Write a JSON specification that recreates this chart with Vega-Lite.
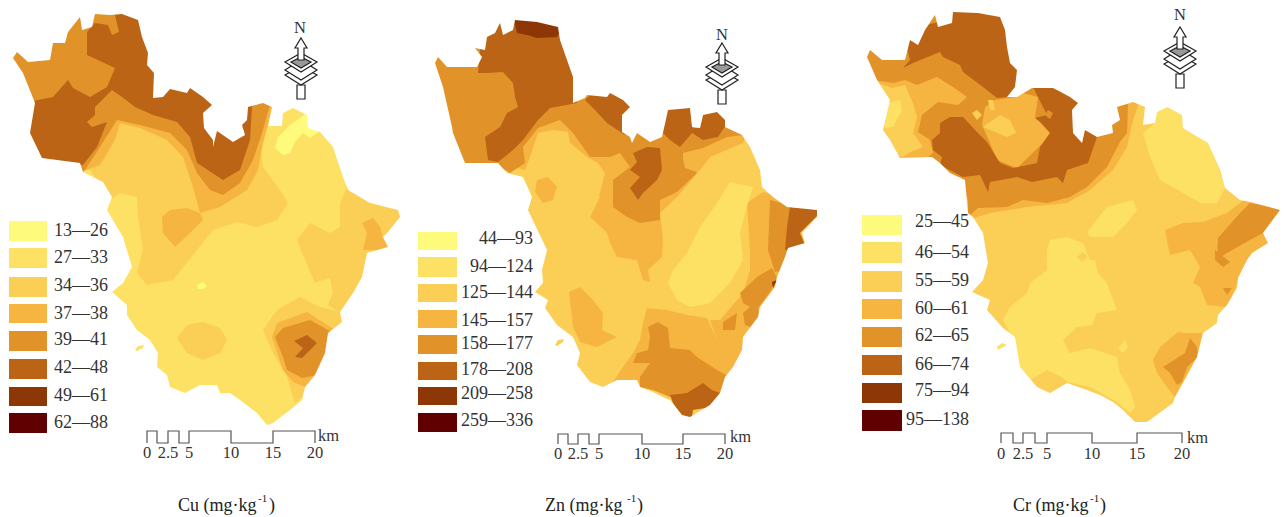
{"$schema":"https://vega.github.io/schema/vega-lite/v6.json","width":1284,"height":517,"autosize":{"type":"fit","contains":"padding"},"padding":0,"background":"white","view":{"stroke":null},"projection":{"type":"identity","scale":1,"translate":[0,0]},
"datasets":{
"regions":[
{"type":"Feature","properties":{"map":"Cu","b":2},"geometry":{"type":"Polygon","coordinates":[[[0,0],[410,0],[410,517],[0,517],[0,0]]]}},
{"type":"Feature","properties":{"map":"Cu","b":3},"geometry":{"type":"Polygon","coordinates":[[[90,170],[110,200],[120,193],[137,197],[138,217],[143,250],[137,273],[147,285],[173,280],[197,250],[213,230],[237,222],[257,227],[277,220],[288,203],[280,190],[263,167],[260,140],[268,120],[285,100],[200,0],[0,0],[0,170],[90,170]]]}},
{"type":"Feature","properties":{"map":"Cu","b":3},"geometry":{"type":"Polygon","coordinates":[[[346,190],[340,203],[340,227],[330,233],[310,223],[297,240],[302,253],[315,283],[330,278],[333,293],[328,305],[340,313],[380,320],[405,210],[346,170],[346,190]]]}},
{"type":"Feature","properties":{"map":"Cu","b":4},"geometry":{"type":"Polygon","coordinates":[[[162,217],[170,210],[187,208],[200,213],[203,220],[190,233],[175,247],[163,233],[162,217]]]}},
{"type":"Feature","properties":{"map":"Cu","b":4},"geometry":{"type":"Polygon","coordinates":[[[80,172],[100,165],[115,140],[120,123],[140,128],[167,140],[183,157],[193,187],[200,213],[220,207],[247,190],[258,170],[263,143],[268,125],[285,95],[200,0],[0,0],[0,172],[80,172]]]}},
{"type":"Feature","properties":{"map":"Cu","b":5},"geometry":{"type":"Polygon","coordinates":[[[70,185],[85,170],[100,147],[117,120],[140,125],[170,133],[187,150],[197,173],[210,190],[223,195],[240,183],[253,160],[262,133],[270,105],[280,90],[200,0],[0,0],[0,185],[70,185]]]}},
{"type":"Feature","properties":{"map":"Cu","b":6},"geometry":{"type":"Polygon","coordinates":[[[87,32],[95,23],[108,25],[112,35],[119,32],[115,15],[120,5],[253,5],[252,107],[250,140],[240,170],[223,180],[197,163],[190,137],[177,122],[153,115],[135,107],[122,97],[112,90],[95,107],[95,115],[87,122],[92,127],[107,122],[97,147],[83,165],[42,163],[20,133],[23,103],[53,97],[68,80],[73,88],[90,97],[107,87],[115,68],[87,55],[87,32]]]}},
{"type":"Feature","properties":{"map":"Cu","b":1},"geometry":{"type":"Polygon","coordinates":[[[275,148],[283,155],[290,153],[295,142],[303,133],[310,138],[320,131],[310,110],[300,118],[290,125],[278,137],[275,148]]]}},
{"type":"Feature","properties":{"map":"Cu","b":3},"geometry":{"type":"Polygon","coordinates":[[[177,338],[187,325],[203,322],[220,328],[227,340],[220,353],[203,360],[187,353],[177,338]]]}},
{"type":"Feature","properties":{"map":"Cu","b":1},"geometry":{"type":"Polygon","coordinates":[[[197,285],[203,282],[207,286],[203,289],[198,289],[197,285]]]}},
{"type":"Feature","properties":{"map":"Cu","b":3},"geometry":{"type":"Polygon","coordinates":[[[263,330],[277,310],[300,297],[320,307],[345,313],[340,340],[330,370],[318,385],[305,395],[295,403],[287,377],[273,353],[263,330]]]}},
{"type":"Feature","properties":{"map":"Cu","b":4},"geometry":{"type":"Polygon","coordinates":[[[272,337],[277,323],[307,312],[335,330],[335,350],[322,378],[305,387],[293,382],[283,370],[272,337]]]}},
{"type":"Feature","properties":{"map":"Cu","b":5},"geometry":{"type":"Polygon","coordinates":[[[275,337],[283,328],[310,320],[333,333],[330,353],[318,375],[302,378],[287,370],[283,357],[275,337]]]}},
{"type":"Feature","properties":{"map":"Cu","b":6},"geometry":{"type":"Polygon","coordinates":[[[294,341],[307,335],[317,343],[302,358],[295,357],[303,348],[294,341]]]}},
{"type":"Feature","properties":{"map":"Cu","b":4},"geometry":{"type":"Polygon","coordinates":[[[362,223],[373,218],[380,227],[383,237],[390,250],[363,250],[367,233],[362,223]]]}},

{"type":"Feature","properties":{"map":"Zn","b":3},"geometry":{"type":"Polygon","coordinates":[[[410,0],[830,0],[830,517],[410,517],[410,0]]]}},
{"type":"Feature","properties":{"map":"Zn","b":4},"geometry":{"type":"Polygon","coordinates":[[[520,175],[600,197],[590,217],[607,233],[610,243],[617,257],[637,260],[643,280],[650,282],[648,270],[662,257],[663,240],[660,213],[677,197],[700,170],[710,157],[743,143],[800,0],[420,0],[420,175],[520,175]]]}},
{"type":"Feature","properties":{"map":"Zn","b":3},"geometry":{"type":"Polygon","coordinates":[[[525,170],[530,157],[538,133],[553,130],[568,132],[570,143],[587,157],[598,163],[605,173],[598,200],[590,217],[607,233],[560,240],[500,210],[505,165],[525,170]]]}},
{"type":"Feature","properties":{"map":"Zn","b":4},"geometry":{"type":"Polygon","coordinates":[[[537,180],[548,177],[557,187],[553,200],[543,203],[535,192],[537,180]]]}},
{"type":"Feature","properties":{"map":"Zn","b":5},"geometry":{"type":"Polygon","coordinates":[[[500,167],[510,173],[525,163],[523,147],[538,128],[560,120],[573,133],[590,157],[610,157],[620,153],[630,167],[613,180],[613,207],[627,217],[640,223],[660,220],[660,200],[677,192],[697,173],[683,160],[683,153],[703,148],[727,137],[743,135],[760,100],[700,0],[420,0],[420,167],[500,167]]]}},
{"type":"Feature","properties":{"map":"Zn","b":4},"geometry":{"type":"Polygon","coordinates":[[[683,158],[697,153],[703,165],[697,172],[685,168],[683,158]]]}},
{"type":"Feature","properties":{"map":"Zn","b":6},"geometry":{"type":"Polygon","coordinates":[[[478,73],[487,73],[503,72],[513,83],[515,97],[518,107],[507,113],[500,127],[485,137],[488,160],[498,162],[513,150],[523,140],[538,120],[550,108],[577,103],[577,10],[483,10],[480,50],[478,73]]]}},
{"type":"Feature","properties":{"map":"Zn","b":7},"geometry":{"type":"Polygon","coordinates":[[[513,15],[517,33],[527,35],[537,38],[557,37],[562,28],[558,15],[513,15]]]}},
{"type":"Feature","properties":{"map":"Zn","b":6},"geometry":{"type":"Polygon","coordinates":[[[585,100],[592,93],[610,90],[630,97],[640,107],[625,115],[625,135],[607,123],[595,110],[585,100]]]}},
{"type":"Feature","properties":{"map":"Zn","b":6},"geometry":{"type":"Polygon","coordinates":[[[660,130],[665,125],[667,108],[690,105],[693,128],[700,128],[703,115],[717,108],[728,122],[718,137],[703,140],[692,133],[680,147],[670,140],[660,130]]]}},
{"type":"Feature","properties":{"map":"Zn","b":6},"geometry":{"type":"Polygon","coordinates":[[[633,153],[647,147],[660,148],[662,170],[657,180],[643,193],[638,200],[630,188],[640,177],[630,170],[637,162],[633,153]]]}},
{"type":"Feature","properties":{"map":"Zn","b":4},"geometry":{"type":"Polygon","coordinates":[[[747,203],[763,192],[790,200],[810,260],[790,300],[770,340],[745,380],[733,367],[727,353],[717,340],[710,320],[720,320],[743,293],[750,270],[750,250],[747,203]]]}},
{"type":"Feature","properties":{"map":"Zn","b":5},"geometry":{"type":"Polygon","coordinates":[[[770,200],[790,205],[790,250],[785,270],[775,272],[768,250],[770,200]]]}},
{"type":"Feature","properties":{"map":"Zn","b":6},"geometry":{"type":"Polygon","coordinates":[[[790,207],[825,208],[800,233],[807,250],[785,250],[787,227],[790,207]]]}},
{"type":"Feature","properties":{"map":"Zn","b":5},"geometry":{"type":"Polygon","coordinates":[[[740,293],[757,277],[772,268],[777,278],[770,292],[758,308],[760,317],[753,328],[745,325],[743,313],[750,307],[743,303],[740,293]]]}},
{"type":"Feature","properties":{"map":"Zn","b":5},"geometry":{"type":"Polygon","coordinates":[[[723,322],[737,313],[735,330],[723,330],[723,322]]]}},
{"type":"Feature","properties":{"map":"Zn","b":7},"geometry":{"type":"Polygon","coordinates":[[[772,282],[777,280],[773,288],[772,282]]]}},
{"type":"Feature","properties":{"map":"Zn","b":4},"geometry":{"type":"Polygon","coordinates":[[[569,292],[580,287],[593,300],[603,313],[602,330],[617,337],[597,347],[580,342],[573,327],[569,292]]]}},
{"type":"Feature","properties":{"map":"Zn","b":4},"geometry":{"type":"Polygon","coordinates":[[[647,308],[667,310],[687,315],[707,318],[717,340],[727,353],[735,367],[725,383],[677,397],[643,387],[623,382],[613,382],[623,367],[633,353],[640,340],[643,323],[647,308]]]}},
{"type":"Feature","properties":{"map":"Zn","b":5},"geometry":{"type":"Polygon","coordinates":[[[648,327],[658,322],[668,328],[670,348],[690,350],[697,357],[717,370],[730,377],[725,395],[687,397],[670,397],[653,390],[640,387],[640,377],[650,363],[633,363],[637,353],[648,350],[650,337],[648,327]]]}},
{"type":"Feature","properties":{"map":"Zn","b":6},"geometry":{"type":"Polygon","coordinates":[[[670,395],[687,393],[703,383],[712,390],[720,393],[712,407],[693,410],[692,417],[683,418],[673,403],[670,395]]]}},
{"type":"Feature","properties":{"map":"Zn","b":2},"geometry":{"type":"Polygon","coordinates":[[[730,182],[753,187],[745,213],[740,233],[743,260],[730,283],[710,303],[690,307],[677,300],[668,283],[673,270],[687,253],[700,227],[717,203],[730,182]]]}},

{"type":"Feature","properties":{"map":"Cr","b":3},"geometry":{"type":"Polygon","coordinates":[[[830,0],[1300,0],[1300,517],[830,517],[830,0]]]}},
{"type":"Feature","properties":{"map":"Cr","b":2},"geometry":{"type":"Polygon","coordinates":[[[1143,133],[1155,123],[1157,105],[1167,100],[1185,110],[1187,128],[1197,133],[1207,140],[1218,167],[1225,188],[1217,203],[1200,203],[1183,193],[1160,180],[1150,157],[1143,133]]]}},
{"type":"Feature","properties":{"map":"Cr","b":2},"geometry":{"type":"Polygon","coordinates":[[[1087,232],[1107,207],[1133,200],[1137,210],[1127,223],[1113,237],[1090,237],[1087,232]]]}},
{"type":"Feature","properties":{"map":"Cr","b":2},"geometry":{"type":"Polygon","coordinates":[[[1050,240],[1067,237],[1083,243],[1090,260],[1095,260],[1098,273],[1107,283],[1117,310],[1097,313],[1092,325],[1077,327],[1063,340],[1070,353],[1090,348],[1117,357],[1120,373],[1130,390],[1135,407],[1130,413],[1117,402],[1090,387],[1067,382],[1063,378],[1047,370],[1030,380],[1020,370],[1017,360],[1010,333],[1003,320],[1010,307],[1027,293],[1030,283],[1047,270],[1047,250],[1050,240]]]}},
{"type":"Feature","properties":{"map":"Cr","b":3},"geometry":{"type":"Polygon","coordinates":[[[1077,257],[1083,252],[1088,257],[1082,262],[1077,257]]]}},
{"type":"Feature","properties":{"map":"Cr","b":2},"geometry":{"type":"Polygon","coordinates":[[[1118,348],[1125,340],[1128,347],[1123,353],[1118,348]]]}},
{"type":"Feature","properties":{"map":"Cr","b":4},"geometry":{"type":"Polygon","coordinates":[[[960,223],[990,213],[1027,207],[1067,203],[1090,190],[1113,170],[1127,147],[1133,120],[1140,100],[1100,0],[860,0],[860,223],[960,223]]]}},
{"type":"Feature","properties":{"map":"Cr","b":5},"geometry":{"type":"Polygon","coordinates":[[[960,177],[968,200],[968,217],[978,208],[1007,207],[1023,200],[1047,203],[1070,197],[1087,187],[1107,167],[1120,142],[1127,133],[1128,105],[1120,95],[1080,0],[860,0],[860,177],[960,177]]]}},
{"type":"Feature","properties":{"map":"Cr","b":4},"geometry":{"type":"Polygon","coordinates":[[[873,80],[893,83],[905,80],[917,85],[937,77],[953,87],[967,97],[958,105],[938,102],[922,115],[918,132],[930,140],[933,153],[922,162],[900,163],[870,133],[873,80]]]}},
{"type":"Feature","properties":{"map":"Cr","b":3},"geometry":{"type":"Polygon","coordinates":[[[878,83],[892,88],[905,85],[913,103],[917,117],[913,133],[923,147],[908,153],[902,158],[883,140],[878,83]]]}},
{"type":"Feature","properties":{"map":"Cr","b":2},"geometry":{"type":"Polygon","coordinates":[[[888,103],[900,100],[902,110],[893,127],[885,128],[883,117],[888,103]]]}},
{"type":"Feature","properties":{"map":"Cr","b":6},"geometry":{"type":"Polygon","coordinates":[[[903,68],[910,60],[905,40],[918,40],[925,25],[950,20],[950,5],[1025,5],[1025,90],[1007,97],[997,98],[983,87],[963,72],[960,65],[943,57],[940,52],[913,63],[903,68]]]}},
{"type":"Feature","properties":{"map":"Cr","b":4},"geometry":{"type":"Polygon","coordinates":[[[997,160],[1017,168],[1043,143],[1050,133],[1040,120],[1035,117],[1038,97],[1023,93],[1015,97],[995,100],[985,107],[982,125],[990,143],[997,160]]]}},
{"type":"Feature","properties":{"map":"Cr","b":3},"geometry":{"type":"Polygon","coordinates":[[[983,127],[1000,115],[1010,120],[1016,133],[1007,137],[983,127]]]}},
{"type":"Feature","properties":{"map":"Cr","b":3},"geometry":{"type":"Polygon","coordinates":[[[972,113],[977,110],[982,115],[977,120],[972,113]]]}},
{"type":"Feature","properties":{"map":"Cr","b":3},"geometry":{"type":"Polygon","coordinates":[[[988,100],[993,100],[995,110],[990,110],[988,100]]]}},
{"type":"Feature","properties":{"map":"Cr","b":6},"geometry":{"type":"Polygon","coordinates":[[[932,140],[940,133],[940,123],[950,117],[963,117],[977,132],[987,142],[1000,163],[1013,168],[1037,163],[1040,147],[1050,133],[1040,122],[1035,118],[1047,115],[1038,97],[1032,85],[1053,80],[1073,92],[1085,103],[1075,110],[1077,133],[1082,143],[1085,125],[1097,137],[1088,163],[1067,170],[1063,183],[1057,177],[1032,182],[1017,177],[990,182],[988,192],[980,175],[963,177],[940,165],[942,157],[933,150],[932,140]]]}},
{"type":"Feature","properties":{"map":"Cr","b":5},"geometry":{"type":"Polygon","coordinates":[[[1048,110],[1053,113],[1050,119],[1045,115],[1048,110]]]}},
{"type":"Feature","properties":{"map":"Cr","b":4},"geometry":{"type":"Polygon","coordinates":[[[1165,230],[1183,223],[1203,222],[1227,213],[1240,203],[1250,195],[1290,205],[1290,260],[1240,277],[1227,307],[1207,305],[1200,287],[1193,283],[1200,267],[1190,250],[1170,255],[1165,230]]]}},
{"type":"Feature","properties":{"map":"Cr","b":5},"geometry":{"type":"Polygon","coordinates":[[[1240,213],[1250,203],[1290,210],[1263,233],[1250,240],[1227,253],[1217,260],[1218,238],[1240,213]]]}},
{"type":"Feature","properties":{"map":"Cr","b":5},"geometry":{"type":"Polygon","coordinates":[[[1215,250],[1230,262],[1223,267],[1215,260],[1215,250]]]}},
{"type":"Feature","properties":{"map":"Cr","b":5},"geometry":{"type":"Polygon","coordinates":[[[1223,288],[1232,288],[1227,295],[1223,288]]]}},
{"type":"Feature","properties":{"map":"Cr","b":4},"geometry":{"type":"Polygon","coordinates":[[[1153,360],[1160,347],[1178,332],[1183,333],[1203,333],[1197,357],[1180,387],[1175,397],[1167,387],[1157,373],[1153,360]]]}},
{"type":"Feature","properties":{"map":"Cr","b":5},"geometry":{"type":"Polygon","coordinates":[[[1163,367],[1185,353],[1190,338],[1197,347],[1198,357],[1187,367],[1182,382],[1177,385],[1170,373],[1163,367]]]}}
],
"outside":[
{"type":"Feature","properties":{"map":"Cu"},"geometry":{"type":"Polygon","coordinates":[[[0,0],[0,517],[410,517],[410,0],[0,0]],[[95,14],[110,15],[122,14],[138,20],[142,37],[148,53],[147,65],[154,73],[153,98],[163,97],[170,89],[187,93],[190,88],[203,97],[212,105],[203,113],[204,128],[213,140],[213,147],[217,131],[233,142],[245,135],[242,125],[247,120],[248,107],[263,103],[272,107],[268,126],[282,126],[283,113],[293,108],[307,115],[308,128],[320,132],[333,147],[343,177],[348,190],[370,203],[398,210],[400,217],[388,232],[383,237],[388,247],[367,253],[362,277],[353,293],[340,312],[342,322],[328,333],[325,353],[315,375],[305,387],[302,400],[290,410],[273,423],[267,425],[257,413],[240,400],[230,393],[220,393],[217,385],[200,385],[185,393],[170,387],[167,375],[157,367],[158,353],[150,340],[137,330],[127,315],[127,305],[112,292],[123,283],[132,267],[123,237],[107,210],[112,197],[103,182],[83,172],[80,163],[42,158],[30,133],[35,103],[23,73],[13,58],[17,52],[28,62],[50,60],[53,43],[65,43],[68,32],[80,17],[82,30],[92,27],[95,14]]]}},
{"type":"Feature","properties":{"map":"Zn"},"geometry":{"type":"Polygon","coordinates":[[[410,0],[410,517],[830,517],[830,0],[410,0]],[[515,20],[537,22],[558,27],[560,40],[567,60],[573,77],[573,103],[585,98],[587,95],[607,97],[610,93],[623,100],[630,107],[622,115],[622,132],[630,137],[632,143],[637,133],[650,142],[662,137],[668,110],[690,108],[692,127],[700,128],[703,115],[717,112],[725,120],[725,127],[742,135],[750,147],[760,170],[762,187],[773,197],[787,207],[817,210],[817,217],[802,233],[805,243],[788,248],[785,257],[777,277],[775,287],[760,307],[758,317],[743,337],[742,350],[733,367],[725,377],[720,393],[710,405],[690,417],[682,415],[670,400],[663,397],[653,392],[640,387],[637,380],[617,380],[603,387],[590,382],[577,365],[580,353],[573,337],[557,325],[545,308],[548,300],[535,292],[543,283],[542,270],[547,250],[528,210],[532,197],[523,177],[507,173],[498,163],[465,163],[453,133],[452,127],[443,87],[435,63],[438,57],[447,67],[477,67],[482,57],[475,48],[485,50],[487,37],[495,33],[500,23],[503,35],[513,30],[515,20]]]}},
{"type":"Feature","properties":{"map":"Cr"},"geometry":{"type":"Polygon","coordinates":[[[830,0],[830,517],[1300,517],[1300,0],[830,0]],[[953,12],[978,13],[1000,17],[1005,30],[1007,47],[1010,63],[1017,70],[1015,87],[1007,97],[1017,97],[1032,88],[1053,88],[1057,90],[1070,97],[1078,103],[1072,110],[1073,133],[1082,143],[1085,130],[1097,137],[1113,133],[1112,125],[1120,120],[1117,107],[1133,102],[1145,107],[1143,125],[1155,123],[1157,112],[1167,107],[1182,115],[1183,128],[1198,137],[1208,143],[1220,170],[1225,188],[1240,200],[1250,202],[1280,210],[1263,233],[1268,243],[1252,253],[1247,260],[1238,278],[1237,288],[1227,305],[1218,315],[1217,323],[1203,333],[1197,357],[1183,383],[1175,397],[1173,403],[1147,422],[1135,422],[1123,410],[1113,402],[1100,395],[1087,390],[1067,383],[1050,393],[1037,387],[1020,367],[1015,337],[1003,328],[987,310],[990,300],[972,292],[983,280],[988,263],[983,233],[973,217],[968,213],[965,180],[950,173],[940,163],[932,157],[900,158],[890,140],[883,130],[890,100],[877,80],[867,57],[870,50],[882,60],[905,60],[910,40],[918,45],[925,30],[935,15],[938,27],[952,23],[953,12]]]}}
],
"keys":[
{"type":"Feature","properties":{"map":"Cu","b":2},"geometry":{"type":"Polygon","coordinates":[[[135,350],[138,346],[144,345],[143,348],[137,351],[135,350]]]}},
{"type":"Feature","properties":{"map":"Zn","b":3},"geometry":{"type":"Polygon","coordinates":[[[555,345],[558,340],[564,339],[563,342],[557,346],[555,345]]]}},
{"type":"Feature","properties":{"map":"Cr","b":2},"geometry":{"type":"Polygon","coordinates":[[[997,347],[1002,343],[1007,345],[998,350],[997,347]]]}},
{"type":"Feature","properties":{"b":1},"geometry":{"type":"Polygon","coordinates":[[[9,221],[47,221],[47,241],[9,241],[9,221]]]}},
{"type":"Feature","properties":{"b":2},"geometry":{"type":"Polygon","coordinates":[[[9,248],[47,248],[47,268],[9,268],[9,248]]]}},
{"type":"Feature","properties":{"b":3},"geometry":{"type":"Polygon","coordinates":[[[9,277],[47,277],[47,297],[9,297],[9,277]]]}},
{"type":"Feature","properties":{"b":4},"geometry":{"type":"Polygon","coordinates":[[[9,304],[47,304],[47,323],[9,323],[9,304]]]}},
{"type":"Feature","properties":{"b":5},"geometry":{"type":"Polygon","coordinates":[[[9,331],[47,331],[47,351],[9,351],[9,331]]]}},
{"type":"Feature","properties":{"b":6},"geometry":{"type":"Polygon","coordinates":[[[9,359],[47,359],[47,379],[9,379],[9,359]]]}},
{"type":"Feature","properties":{"b":7},"geometry":{"type":"Polygon","coordinates":[[[9,387],[47,387],[47,406],[9,406],[9,387]]]}},
{"type":"Feature","properties":{"b":8},"geometry":{"type":"Polygon","coordinates":[[[9,413],[47,413],[47,433],[9,433],[9,413]]]}},
{"type":"Feature","properties":{"b":1},"geometry":{"type":"Polygon","coordinates":[[[418,232],[457,232],[457,250],[418,250],[418,232]]]}},
{"type":"Feature","properties":{"b":2},"geometry":{"type":"Polygon","coordinates":[[[418,257],[457,257],[457,277],[418,277],[418,257]]]}},
{"type":"Feature","properties":{"b":3},"geometry":{"type":"Polygon","coordinates":[[[418,284],[457,284],[457,302],[418,302],[418,284]]]}},
{"type":"Feature","properties":{"b":4},"geometry":{"type":"Polygon","coordinates":[[[418,310],[457,310],[457,328],[418,328],[418,310]]]}},
{"type":"Feature","properties":{"b":5},"geometry":{"type":"Polygon","coordinates":[[[418,335],[457,335],[457,354],[418,354],[418,335]]]}},
{"type":"Feature","properties":{"b":6},"geometry":{"type":"Polygon","coordinates":[[[418,362],[457,362],[457,380],[418,380],[418,362]]]}},
{"type":"Feature","properties":{"b":7},"geometry":{"type":"Polygon","coordinates":[[[418,387],[457,387],[457,405],[418,405],[418,387]]]}},
{"type":"Feature","properties":{"b":8},"geometry":{"type":"Polygon","coordinates":[[[418,413],[457,413],[457,432],[418,432],[418,413]]]}},
{"type":"Feature","properties":{"b":1},"geometry":{"type":"Polygon","coordinates":[[[862,215],[902,215],[902,235],[862,235],[862,215]]]}},
{"type":"Feature","properties":{"b":2},"geometry":{"type":"Polygon","coordinates":[[[862,242],[902,242],[902,263],[862,263],[862,242]]]}},
{"type":"Feature","properties":{"b":3},"geometry":{"type":"Polygon","coordinates":[[[862,271],[902,271],[902,292],[862,292],[862,271]]]}},
{"type":"Feature","properties":{"b":4},"geometry":{"type":"Polygon","coordinates":[[[862,299],[902,299],[902,319],[862,319],[862,299]]]}},
{"type":"Feature","properties":{"b":5},"geometry":{"type":"Polygon","coordinates":[[[862,327],[902,327],[902,347],[862,347],[862,327]]]}},
{"type":"Feature","properties":{"b":6},"geometry":{"type":"Polygon","coordinates":[[[862,355],[902,355],[902,375],[862,375],[862,355]]]}},
{"type":"Feature","properties":{"b":7},"geometry":{"type":"Polygon","coordinates":[[[862,383],[902,383],[902,403],[862,403],[862,383]]]}},
{"type":"Feature","properties":{"b":8},"geometry":{"type":"Polygon","coordinates":[[[862,410],[902,410],[902,431],[862,431],[862,410]]]}}
],
"bars":[
{"type":"Feature","properties":{"map":"Cu"},"geometry":{"type":"LineString","coordinates":[[147,443],[147,431],[157,431],[157,443],[168,443],[168,431],[179,431],[179,443],[189,443],[189,431],[231,431],[231,443],[273,443],[273,431],[315,431],[315,443]]}},
{"type":"Feature","properties":{"map":"Zn"},"geometry":{"type":"LineString","coordinates":[[558,444],[558,434],[568,434],[568,444],[578,444],[578,434],[589,434],[589,444],[599,444],[599,434],[642,434],[642,444],[683,444],[683,434],[725,434],[725,444]]}},
{"type":"Feature","properties":{"map":"Cr"},"geometry":{"type":"LineString","coordinates":[[1001,443],[1001,433],[1013,433],[1013,443],[1023,443],[1023,433],[1035,433],[1035,443],[1047,443],[1047,433],[1092,433],[1092,443],[1137,443],[1137,433],[1182,433],[1182,443]]}}
],
"compass":[
{"type":"Feature","properties":{"c":"white"},"geometry":{"type":"Polygon","coordinates":[[[297,85],[305,85],[305,99],[297,99],[297,85]]]}},
{"type":"Feature","properties":{"c":"white"},"geometry":{"type":"Polygon","coordinates":[[[285,75],[301,66],[317,75],[301,85],[285,75]]]}},
{"type":"Feature","properties":{"c":"white"},"geometry":{"type":"Polygon","coordinates":[[[285,70],[301,60],[317,70],[301,80],[285,70]]]}},
{"type":"Feature","properties":{"c":"white"},"geometry":{"type":"Polygon","coordinates":[[[285,62],[301,53],[317,62],[301,72],[285,62]]]}},
{"type":"Feature","properties":{"c":"gray"},"geometry":{"type":"Polygon","coordinates":[[[291,62],[301,57],[311,62],[301,68],[291,62]]]}},
{"type":"Feature","properties":{"c":"white"},"geometry":{"type":"Polygon","coordinates":[[[301,38],[307,48],[304,48],[304,60],[298,60],[298,48],[295,48],[301,38]]]}},
{"type":"Feature","properties":{"c":"white"},"geometry":{"type":"Polygon","coordinates":[[[718,90],[726,90],[726,104],[718,104],[718,90]]]}},
{"type":"Feature","properties":{"c":"white"},"geometry":{"type":"Polygon","coordinates":[[[706,80],[722,71],[738,80],[722,90],[706,80]]]}},
{"type":"Feature","properties":{"c":"white"},"geometry":{"type":"Polygon","coordinates":[[[706,75],[722,65],[738,75],[722,85],[706,75]]]}},
{"type":"Feature","properties":{"c":"white"},"geometry":{"type":"Polygon","coordinates":[[[706,67],[722,58],[738,67],[722,77],[706,67]]]}},
{"type":"Feature","properties":{"c":"gray"},"geometry":{"type":"Polygon","coordinates":[[[712,67],[722,62],[732,67],[722,73],[712,67]]]}},
{"type":"Feature","properties":{"c":"white"},"geometry":{"type":"Polygon","coordinates":[[[722,43],[728,53],[725,53],[725,65],[719,65],[719,53],[716,53],[722,43]]]}},
{"type":"Feature","properties":{"c":"white"},"geometry":{"type":"Polygon","coordinates":[[[1176,74],[1184,74],[1184,88],[1176,88],[1176,74]]]}},
{"type":"Feature","properties":{"c":"white"},"geometry":{"type":"Polygon","coordinates":[[[1164,64],[1180,55],[1196,64],[1180,74],[1164,64]]]}},
{"type":"Feature","properties":{"c":"white"},"geometry":{"type":"Polygon","coordinates":[[[1164,59],[1180,49],[1196,59],[1180,69],[1164,59]]]}},
{"type":"Feature","properties":{"c":"white"},"geometry":{"type":"Polygon","coordinates":[[[1164,51],[1180,42],[1196,51],[1180,61],[1164,51]]]}},
{"type":"Feature","properties":{"c":"gray"},"geometry":{"type":"Polygon","coordinates":[[[1170,51],[1180,46],[1190,51],[1180,57],[1170,51]]]}},
{"type":"Feature","properties":{"c":"white"},"geometry":{"type":"Polygon","coordinates":[[[1180,27],[1186,37],[1183,37],[1183,49],[1177,49],[1177,37],[1174,37],[1180,27]]]}}
]
},
"layer":[
{"data":{"name":"regions"},"mark":{"type":"geoshape"},"encoding":{"color":{"field":"properties.b","type":"ordinal","legend":null,"scale":{"domain":[1,2,3,4,5,6,7,8],"range":["#FEFB7C","#FCE165","#FBCE55","#F6B540","#E19329","#BC6415","#8E3706","#610000"]}}}},
{"data":{"name":"outside"},"mark":{"type":"geoshape","fill":"white","stroke":null}},
{"data":{"name":"keys"},"mark":{"type":"geoshape"},"encoding":{"color":{"field":"properties.b","type":"ordinal","legend":null,"scale":{"domain":[1,2,3,4,5,6,7,8],"range":["#FEFB7C","#FCE165","#FBCE55","#F6B540","#E19329","#BC6415","#8E3706","#610000"]}}}},
{"data":{"name":"bars"},"mark":{"type":"geoshape","filled":false,"stroke":"#555555","strokeWidth":1.2}},
{"data":{"name":"compass"},"mark":{"type":"geoshape","stroke":"#222222","strokeWidth":1.2},"encoding":{"fill":{"field":"properties.c","type":"nominal","legend":null,"scale":{"domain":["white","gray"],"range":["#ffffff","#999999"]}}}},
{"data":{"values":[
{"lon":108,"lat":231,"t":"13—26"},{"lon":108,"lat":258,"t":"27—33"},{"lon":108,"lat":286,"t":"34—36"},{"lon":108,"lat":314,"t":"37—38"},{"lon":108,"lat":340,"t":"39—41"},{"lon":108,"lat":368,"t":"42—48"},{"lon":108,"lat":396,"t":"49—61"},{"lon":108,"lat":423,"t":"62—88"},
{"lon":533,"lat":239,"t":"44—93"},{"lon":533,"lat":267,"t":"94—124"},{"lon":533,"lat":293,"t":"125—144"},{"lon":533,"lat":321,"t":"145—157"},{"lon":533,"lat":344,"t":"158—177"},{"lon":533,"lat":370,"t":"178—208"},{"lon":533,"lat":394,"t":"209—258"},{"lon":533,"lat":421,"t":"259—336"},
{"lon":969,"lat":222,"t":"25—45"},{"lon":969,"lat":253,"t":"46—54"},{"lon":969,"lat":281,"t":"55—59"},{"lon":969,"lat":309,"t":"60—61"},{"lon":969,"lat":336,"t":"62—65"},{"lon":969,"lat":365,"t":"66—74"},{"lon":969,"lat":391,"t":"75—94"},{"lon":969,"lat":420,"t":"95—138"}
]},"mark":{"type":"text","align":"right","baseline":"middle","font":"Liberation Serif","fontSize":18,"fill":"#333333"},"encoding":{"longitude":{"field":"lon","type":"quantitative"},"latitude":{"field":"lat","type":"quantitative"},"text":{"field":"t"}}},
{"data":{"values":[
{"lon":147,"lat":453,"t":"0"},{"lon":168,"lat":453,"t":"2.5"},{"lon":189,"lat":453,"t":"5"},{"lon":231,"lat":453,"t":"10"},{"lon":273,"lat":453,"t":"15"},{"lon":315,"lat":453,"t":"20"},
{"lon":558,"lat":454,"t":"0"},{"lon":578,"lat":454,"t":"2.5"},{"lon":599,"lat":454,"t":"5"},{"lon":642,"lat":454,"t":"10"},{"lon":683,"lat":454,"t":"15"},{"lon":725,"lat":454,"t":"20"},
{"lon":1001,"lat":454,"t":"0"},{"lon":1023,"lat":454,"t":"2.5"},{"lon":1047,"lat":454,"t":"5"},{"lon":1092,"lat":454,"t":"10"},{"lon":1137,"lat":454,"t":"15"},{"lon":1182,"lat":454,"t":"20"},
{"lon":300,"lat":28,"t":"N"},{"lon":722,"lat":35,"t":"N"},{"lon":1180,"lat":15,"t":"N"}
]},"mark":{"type":"text","align":"center","baseline":"middle","font":"Liberation Serif","fontSize":16.5,"fill":"#333333"},"encoding":{"longitude":{"field":"lon","type":"quantitative"},"latitude":{"field":"lat","type":"quantitative"},"text":{"field":"t"}}},
{"data":{"values":[
{"lon":318,"lat":436,"t":"km"},{"lon":730,"lat":437,"t":"km"},{"lon":1187,"lat":438,"t":"km"}
]},"mark":{"type":"text","align":"left","baseline":"middle","font":"Liberation Serif","fontSize":16.5,"fill":"#333333"},"encoding":{"longitude":{"field":"lon","type":"quantitative"},"latitude":{"field":"lat","type":"quantitative"},"text":{"field":"t"}}},
{"data":{"values":[
{"lon":178,"lat":506,"t":"Cu (mg·kg"},{"lon":545,"lat":506,"t":"Zn (mg·kg"},{"lon":1013,"lat":506,"t":"Cr (mg·kg"},
{"lon":269,"lat":506,"t":")"},{"lon":637,"lat":506,"t":")"},{"lon":1100,"lat":506,"t":")"}
]},"mark":{"type":"text","align":"left","baseline":"middle","font":"Liberation Serif","fontSize":18,"fill":"#222222"},"encoding":{"longitude":{"field":"lon","type":"quantitative"},"latitude":{"field":"lat","type":"quantitative"},"text":{"field":"t"}}},
{"data":{"values":[
{"lon":258,"lat":499,"t":"-1"},{"lon":627,"lat":499,"t":"-1"},{"lon":1090,"lat":499,"t":"-1"}
]},"mark":{"type":"text","align":"left","baseline":"middle","font":"Liberation Serif","fontSize":11,"fill":"#222222"},"encoding":{"longitude":{"field":"lon","type":"quantitative"},"latitude":{"field":"lat","type":"quantitative"},"text":{"field":"t"}}}
]}
